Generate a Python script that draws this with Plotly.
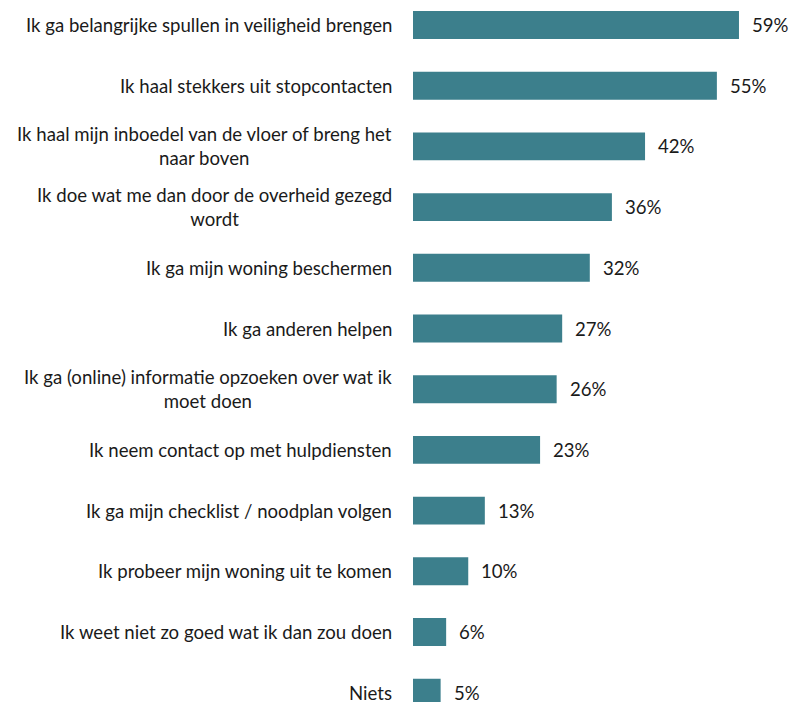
import plotly.graph_objects as go

categories = [
    "Ik ga belangrijke spullen in veiligheid brengen",
    "Ik haal stekkers uit stopcontacten",
    "Ik haal mijn inboedel van de vloer of breng het<br>naar boven",
    "Ik doe wat me dan door de overheid gezegd<br>wordt",
    "Ik ga mijn woning beschermen",
    "Ik ga anderen helpen",
    "Ik ga (online) informatie opzoeken over wat ik<br>moet doen",
    "Ik neem contact op met hulpdiensten",
    "Ik ga mijn checklist / noodplan volgen",
    "Ik probeer mijn woning uit te komen",
    "Ik weet niet zo goed wat ik dan zou doen",
    "Niets",
]
values = [59, 55, 42, 36, 32, 27, 26, 23, 13, 10, 6, 5]
value_labels = [f"{v}%" for v in values]

BAR_COLOR = "#3C7F8C"
TEXT_COLOR = "#1a1a1a"
FONT = "Lato"
FSIZE = 18.6

idx = list(range(len(categories)))

fig = go.Figure(
    go.Bar(
        x=values,
        y=idx,
        orientation="h",
        marker=dict(color=BAR_COLOR, line=dict(width=0)),
        width=0.46,
        hoverinfo="skip",
    )
)

annotations = []
for i, (cat, v, lab) in enumerate(zip(categories, values, value_labels)):
    annotations.append(dict(
        x=0, xref="paper", y=i, yref="y",
        text=cat, showarrow=False, xanchor="right", yanchor="middle",
        align="center", xshift=-19,
        font=dict(family=FONT, size=FSIZE, color=TEXT_COLOR),
    ))
    annotations.append(dict(
        x=v, xref="x", y=i, yref="y",
        text=lab, showarrow=False, xanchor="left", yanchor="middle",
        xshift=11,
        font=dict(family=FONT, size=FSIZE, color=TEXT_COLOR),
    ))

fig.update_layout(
    width=790, height=702,
    margin=dict(l=413, r=0, t=0, b=0),
    paper_bgcolor="white", plot_bgcolor="white",
    showlegend=False,
    annotations=annotations,
    xaxis=dict(range=[0, 377 / 5.525], visible=False, fixedrange=True),
    yaxis=dict(range=[11.153, -0.412], visible=False, fixedrange=True),
)

fig.write_html(
    "out.html",
    config={"displayModeBar": False},
    post_script="document.body.style.margin='0';document.body.style.padding='0';",
)
